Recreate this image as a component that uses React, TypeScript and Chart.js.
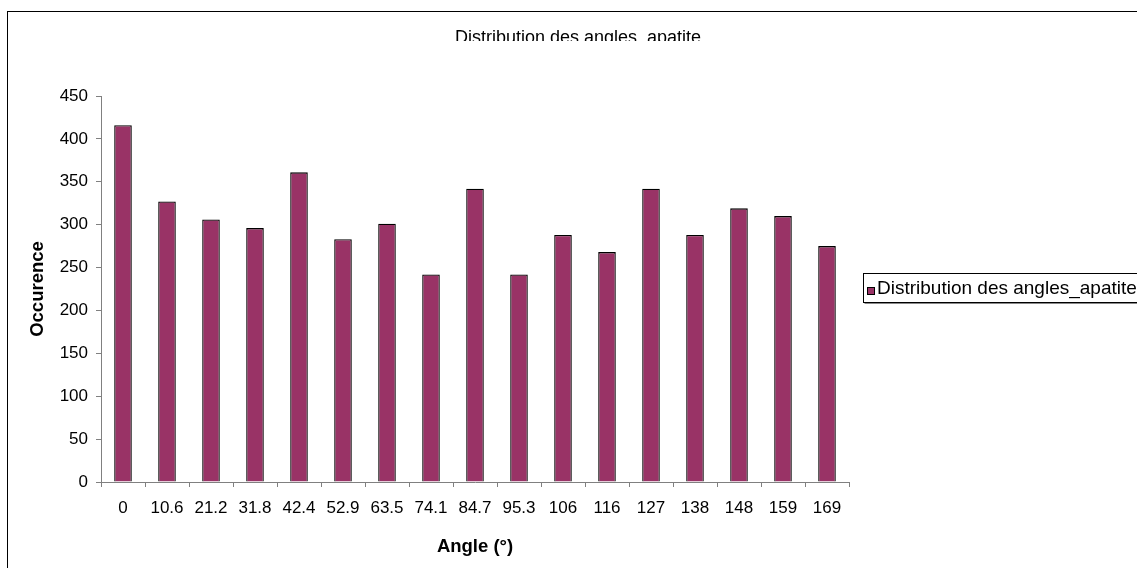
import React, { useEffect, useRef } from "react";
import { Chart, registerables } from "chart.js";

Chart.register(...registerables);

// ---- Data ----
const categories = ["0", "10.6", "21.2", "31.8", "42.4", "52.9", "63.5", "74.1", "84.7", "95.3", "106", "116", "127", "138", "148", "159", "169"];
const occurrences = [416, 327, 306, 296, 361, 283, 301, 242, 342, 242, 288, 268, 342, 288, 319, 310, 275];
const yMin = 0;
const yMax = 450;
const yStep = 50;
const seriesLabel = "Distribution des angles_apatite";
const chartTitle = "Distribution des angles_apatite";
const xTitle = "Angle (°)";
const yTitle = "Occurence";

const FONT = "'Liberation Sans', Arial, Helvetica, sans-serif";
const BAR_COLOR = "#993366";

const CANVAS_W = 1199;
const CANVAS_H = 556;

const decorPlugin = {
  id: "decor",
  afterDraw(chart: any) {
    const ctx = chart.ctx as CanvasRenderingContext2D;
    // Title (clipped at bottom like the reference)
    ctx.save();
    ctx.beginPath();
    ctx.rect(0, 0, chart.width, 29);
    ctx.clip();
    ctx.font = `18px ${FONT}`;
    ctx.fillStyle = "#000";
    ctx.textAlign = "center";
    ctx.textBaseline = "alphabetic";
    ctx.fillText(chartTitle, 570, 31);
    ctx.restore();

    // Legend box
    ctx.save();
    const bx = 855.5, by = 261.5, bw = 400, bh = 29;
    ctx.fillStyle = "#fff";
    ctx.fillRect(bx, by, bw, bh);
    ctx.strokeStyle = "#000";
    ctx.lineWidth = 1;
    ctx.strokeRect(bx, by, bw, bh);
    ctx.strokeStyle = "#888";
    ctx.beginPath();
    ctx.moveTo(bx + 1, by + bh + 1);
    ctx.lineTo(bx + bw, by + bh + 1);
    ctx.stroke();
    const ds = chart.data.datasets[0];
    ctx.fillStyle = ds.backgroundColor;
    ctx.fillRect(859.5, 275.5, 7, 7);
    ctx.strokeStyle = "#000";
    ctx.strokeRect(859.5, 275.5, 7, 7);
    ctx.fillStyle = "#000";
    ctx.font = `19px ${FONT}`;
    ctx.textAlign = "left";
    ctx.textBaseline = "middle";
    ctx.fillText(ds.label, 869, 277);
    ctx.restore();
  },
};

export default function App() {
  const ref = useRef<HTMLCanvasElement | null>(null);

  useEffect(() => {
    if (!ref.current) return;
    const chart = new Chart(ref.current, {
      type: "bar",
      data: {
        labels: categories,
        datasets: [
          {
            label: seriesLabel,
            data: occurrences,
            backgroundColor: BAR_COLOR,
            borderColor: "#000",
            borderWidth: 1.3,
            barPercentage: 0.4,
            categoryPercentage: 1,
          },
        ],
      },
      options: {
        responsive: false,
        animation: false,
        devicePixelRatio: 1,
        layout: { padding: { left: 0, right: CANVAS_W - 841, top: 84, bottom: 0 } },
        plugins: {
          legend: { display: false },
          title: { display: false },
          tooltip: { enabled: false },
        },
        scales: {
          x: {
            offset: true,
            grid: { display: true, drawOnChartArea: false, drawTicks: true, tickLength: 5, color: "#808080", offset: true },
            border: { display: true, color: "#808080" },
            ticks: { color: "#000", font: { size: 17, family: FONT }, padding: 11, maxRotation: 0, autoSkip: false },
            title: { display: true, text: xTitle, color: "#000", font: { size: 18.5, weight: "bold", family: FONT }, padding: { top: 0, bottom: 10 } },
            afterFit: (s: any) => { s.height = CANVAS_H - 470; },
          },
          y: {
            min: yMin,
            max: yMax,
            ticks: { stepSize: yStep, color: "#000", font: { size: 17, family: FONT }, padding: 8 },
            grid: { display: true, drawOnChartArea: false, drawTicks: true, tickLength: 5, color: "#808080" },
            border: { display: true, color: "#808080" },
            title: { display: true, text: yTitle, color: "#000", font: { size: 18.5, weight: "bold", family: FONT }, padding: { top: 19, bottom: 0 } },
            afterFit: (s: any) => { s.width = 93; },
          },
        },
      } as any,
      plugins: [decorPlugin],
    });
    return () => chart.destroy();
  }, []);

  return (
    <div style={{ position: "fixed", left: 0, top: 0, width: 1137, height: 568, overflow: "hidden", background: "#fff" }}>
      <div style={{ position: "absolute", left: 7, top: 11, width: CANVAS_W, height: 620, border: "1px solid #000", background: "#fff" }}>
        <canvas ref={ref} width={CANVAS_W} height={CANVAS_H} style={{ display: "block", width: CANVAS_W, height: CANVAS_H }} />
      </div>
    </div>
  );
}
